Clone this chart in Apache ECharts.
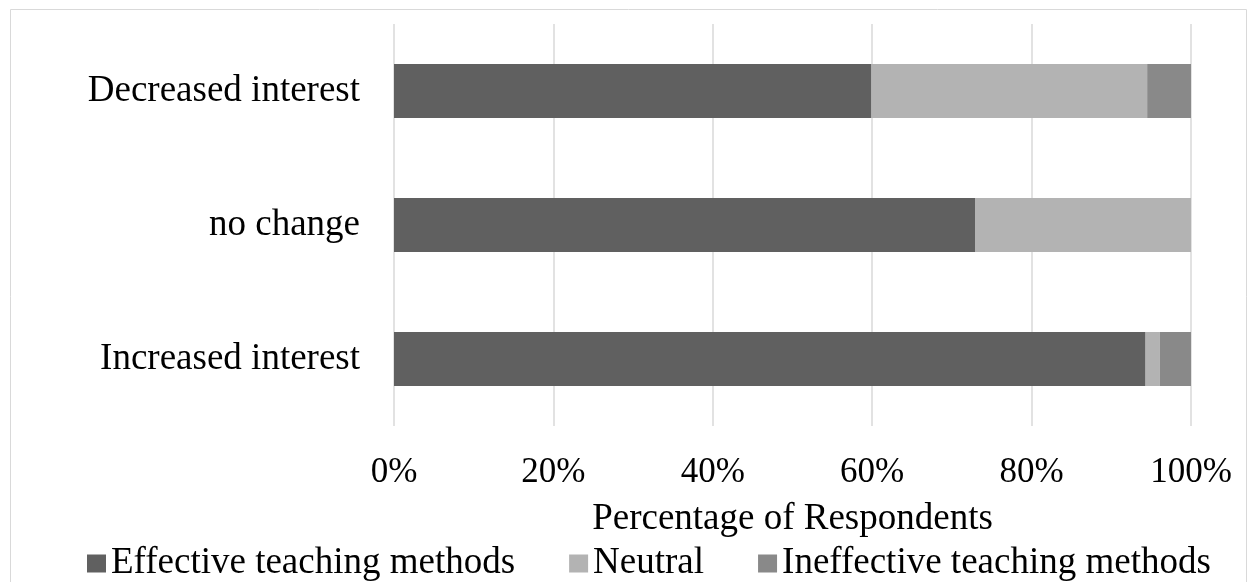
<!DOCTYPE html>
<html><head><meta charset="utf-8">
<script src="https://cdn.jsdelivr.net/npm/echarts@6/dist/echarts.min.js"></script>
<style>html,body{margin:0;padding:0;background:#fff}#c{width:1257px;height:582px}</style>
</head><body><div id="c"></div>
<script>
const categories = ['Increased interest', 'no change', 'Decreased interest'];
const effective = [94.3, 72.9, 59.9];
const neutral = [1.8, 27.1, 34.6];
const ineffective = [3.9, 0, 5.5];
const xTicks = ['0%', '20%', '40%', '60%', '80%', '100%'];
const seriesNames = ['Effective teaching methods', 'Neutral', 'Ineffective teaching methods'];
const colors = ['#606060', '#b3b3b3', '#898989'];
const font = 'Liberation Serif, Times New Roman, serif';

const chart = echarts.init(document.getElementById('c'), null, {renderer: 'canvas'});
const values = [effective, neutral, ineffective];
chart.setOption({
  animation: false,
  graphic: [{type: 'rect', shape: {x: 10.5, y: 9.5, width: 1236, height: 600}, style: {fill: 'none', stroke: '#d9d9d9', lineWidth: 1}, silent: true}],
  grid: {left: 394, right: 66, top: 24, bottom: 156},
  legend: {
    top: 540, left: 82, itemWidth: 19, itemHeight: 18, itemGap: 54,
    icon: 'rect',
    textStyle: {fontFamily: font, fontSize: 37, color: '#000'},
    data: seriesNames
  },
  xAxis: {
    type: 'value', min: 0, max: 100, interval: 20,
    axisLine: {show: false}, axisTick: {show: false},
    splitLine: {lineStyle: {color: '#d9d9d9', width: 1.5}},
    axisLabel: {formatter: v => xTicks[v / 20], fontFamily: font, fontSize: 35, color: '#000', margin: 29},
    name: 'Percentage of Respondents', nameLocation: 'middle', nameGap: 75,
    nameTextStyle: {fontFamily: font, fontSize: 37, color: '#000'}
  },
  yAxis: {
    type: 'category', data: categories,
    axisLine: {show: false}, axisTick: {show: false},
    axisLabel: {fontFamily: font, fontSize: 37, color: '#000', margin: 34}
  },
  series: seriesNames.map((n, i) => ({
    name: n, type: 'bar', stack: 'all', barWidth: 54,
    itemStyle: {color: colors[i]},
    data: values[i]
  }))
});
</script></body></html>
